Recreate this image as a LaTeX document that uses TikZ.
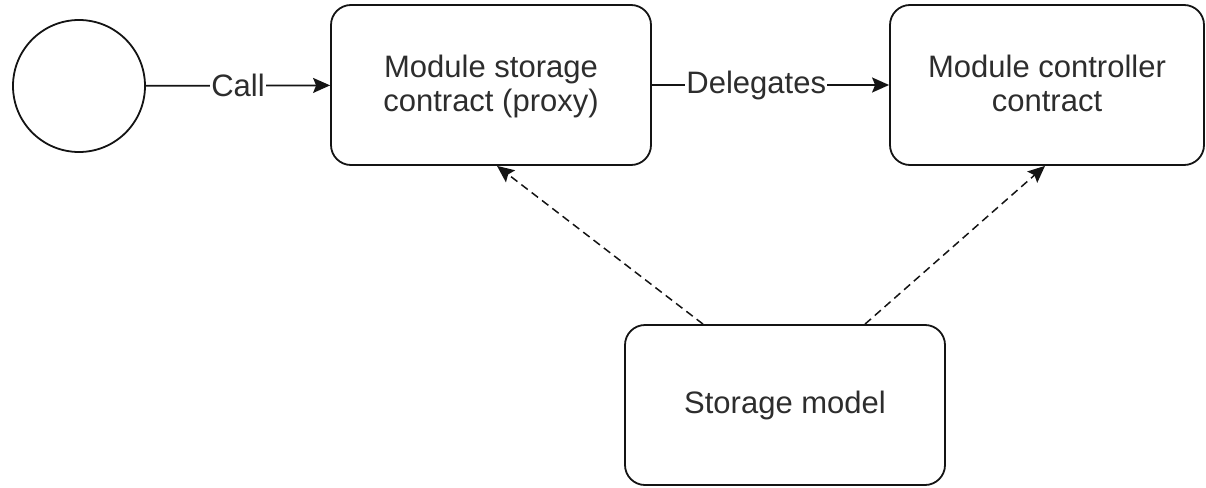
\documentclass[tikz,border=0pt]{standalone}
\usepackage{fontspec}
\setmainfont{Liberation Sans}
\usetikzlibrary{arrows.meta,positioning}
\definecolor{dgedge}{RGB}{20,20,20}
\definecolor{dgtext}{RGB}{45,45,45}
\tikzset{
  dgbox/.style={
    draw=dgedge, line width=1.8pt, rounded corners=20pt,
    align=center, inner sep=0pt, text=dgtext,
    minimum width=320pt, minimum height=160pt
  },
  actor/.style={draw=dgedge, line width=1.8pt, circle, minimum size=132pt},
  arr/.style={-{Stealth[length=17pt,width=15pt,inset=3pt]}, draw=dgedge, line width=1.8pt},
  darr/.style={arr, dash pattern=on 8pt off 5pt, line width=1.5pt},
  lbl/.style={fill=white, text=dgtext, inner sep=1pt},
  every picture/.append style={font=\fontsize{31}{34}\selectfont, line join=round}
}
\begin{document}
\begin{tikzpicture}[x=1pt, y=-1pt]
  \useasboundingbox (0,0) rectangle (1206,487);
  \node[actor] (user) at (79,86) {};
  \node[dgbox, text depth=4pt] (proxy) at (491,85) {Module storage\\contract (proxy)};
  \node[dgbox, text depth=4pt, minimum width=314pt] (ctrl) at (1047,85) {Module controller\\contract};
  \node[dgbox] (store) at (785,405) {Storage model};
  \draw[arr] (user) -- node[lbl] {Call} (proxy);
  \draw[arr] (proxy) -- node[lbl, pos=0.44] {Delegates} (ctrl);
  \draw[darr] ([xshift=-82pt]store.north) -- ([xshift=6pt]proxy.south);
  \draw[darr] ([xshift=80pt]store.north) -- ([xshift=-2pt]ctrl.south);
\end{tikzpicture}
\end{document}
